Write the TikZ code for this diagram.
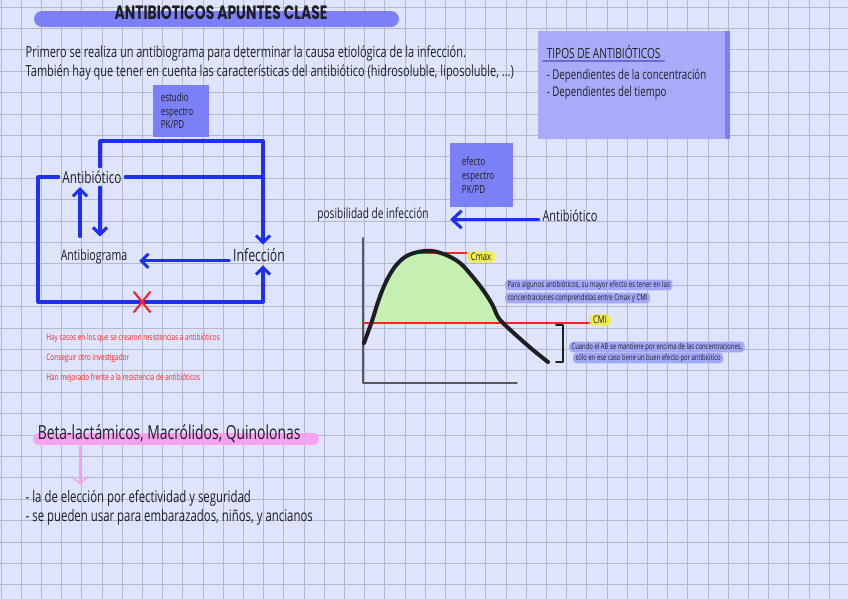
\documentclass[tikz,border=0pt]{standalone}
\usepackage{fontspec}
\setmainfont[FakeStretch=0.72]{Open Sans}
\newfontfamily\titlefont[FakeStretch=0.72]{Poppins}
\usetikzlibrary{arrows.meta,positioning}
\definecolor{paper}{HTML}{DDE4FB}
\definecolor{gridgray}{HTML}{B4B8CA}
\definecolor{barblue}{HTML}{7C80F6}
\definecolor{panelblue}{HTML}{A8ACF8}
\definecolor{flowblue}{HTML}{1F2EF5}
\definecolor{ink}{HTML}{1E1E24}
\definecolor{markyellow}{HTML}{F0EC55}
\definecolor{markblue}{HTML}{A2A7F6}
\definecolor{markpink}{HTML}{F7A2EE}
\definecolor{curvegreen}{HTML}{C6EFB2}
\definecolor{redink}{HTML}{FF2222}
\tikzset{
  hand/.style={inner sep=3pt, text=ink, font=\fontsize{13}{15.4}\selectfont},
  specbox/.style={fill=barblue, anchor=north west, align=left, text=ink, inner ysep=5pt, font=\fontsize{9.5}{11.6}\selectfont},
  flow/.style={draw=flowblue, line width=2.6pt, -{Straight Barb[length=6pt,width=12pt]}},
  redtxt/.style={anchor=west, inner sep=1pt, text=redink, font=\fontsize{7.6}{8}\selectfont},
  marknote/.style={anchor=west, fill=markblue, rounded corners=3pt, inner xsep=2pt, inner ysep=1pt, text=ink, font=\fontsize{7.2}{8}\selectfont},
  labeltag/.style={fill=markyellow, rounded corners=4pt, inner xsep=3.5pt, inner ysep=1.5pt, text=ink, font=\fontsize{9}{10}\selectfont},
  limit/.style={draw=redink, line width=1.7pt}
}
\begin{document}
\begin{tikzpicture}[x=0.03cm, y=-0.03cm, line join=round, line cap=round]
\useasboundingbox (0,0) rectangle (848,599);
\fill[paper] (0,0) rectangle (848,599);
\foreach \i in {0,...,41} \draw[gridgray, line width=0.7pt] (20.2*\i+1,0) -- (20.2*\i+1,599);
\foreach \j in {0,...,27} \draw[gridgray, line width=0.7pt] (0,21.4*\j+7) -- (848,21.4*\j+7);

% title and intro
\draw[barblue, line width=13.6pt] (42,19) -- (391,19);
\node[text=ink, font=\titlefont\bfseries\fontsize{16.5}{16.5}\selectfont] (title) at (221,13) {ANTIBIOTICOS APUNTES CLASE};
\node[hand, anchor=west, align=left] (intro) at (22,63) {Primero se realiza un antibiograma para determinar la causa etiológica de la infección.\\También hay que tener en cuenta las características del antibiótico (hidrosoluble, liposoluble, ...)};

% tipos
\fill[panelblue] (538,31) rectangle (730,139);
\fill[barblue] (725,31) rectangle (730,139);
\node[hand, anchor=west, font=\fontsize{12}{14}\selectfont] (tipos) at (543,52) {TIPOS DE ANTIBIÓTICOS};
\draw[barblue!85!black, line width=1.6pt] ([yshift=1pt]tipos.south west) -- ([yshift=1pt]tipos.south east);
\node[hand, anchor=west, align=left, font=\fontsize{11.5}{14.5}\selectfont] (tiposlist) at (543,84.5) {- Dependientes de la concentración\\- Dependientes del tiempo};

% cycle
\node[specbox, minimum width=48pt, minimum height=44pt, text width=35pt, inner xsep=6.5pt] (spec1) at (153,85) {estudio\\espectro\\PK/PD};
\node[hand, font=\fontsize{14}{16}\selectfont] (abx) at (92,177) {Antibiótico};
\node[hand, font=\fontsize{12.5}{14}\selectfont] (abg) at (94,257) {Antibiograma};
\node[hand, font=\fontsize{14.5}{16}\selectfont] (inf) at (259,255) {Infección};
\path (100,141) coordinate (topL) (263,141) coordinate (topR)
  (38,0) coordinate (loopL) (263,302) coordinate (loopR)
  (80,0) coordinate (upx) (142,302) coordinate (cross);
\draw[flow] (abx.north -| topL) -- (topL) -- (topR) -- (topR |- inf.north);
\draw[flow, -] (abx.east) -- (abx.east -| topR);
\draw[flow, shorten >=8pt] (abx.south -| topL) -- (topL |- abg.north);
\draw[flow, shorten <=8pt] (upx |- abg.north) -- (upx |- abx.south);
\draw[flow, shorten >=7pt] ([yshift=-5pt]inf.west) -- ([yshift=-5pt]inf.west -| abg.east);
\draw[flow] (abx.west) -- (abx.west -| loopL) |- (loopR) -- (loopR |- inf.south);
\draw[redink, line width=1.8pt] ([shift={(-8,-10)}]cross) -- ([shift={(8,10)}]cross)
  ([shift={(8,-10)}]cross) -- ([shift={(-8,10)}]cross);
\foreach \y/\t [count=\k] in {338/Hay casos en los que se crearon resistencias a antibióticos,
  358/Conseguir otro investigador,
  378/Han mejorado frente a la resistencia de antibióticos}
  \node[redtxt] (res\k) at (45,\y) {\t};

% graph
\node[specbox, minimum width=53.5pt, minimum height=54.6pt, text width=33.5pt, inner xsep=10pt, font=\fontsize{9.5}{12.2}\selectfont] (spec2) at (450,143) {efecto\\espectro\\PK/PD};
\node[hand, font=\fontsize{12}{14}\selectfont] (pos) at (373,215) {posibilidad de infección};
\node[hand, font=\fontsize{13}{15}\selectfont] (ab2) at (570,216) {Antibiótico};
\draw[flow, -{Straight Barb[length=8pt,width=15pt]}] ([yshift=-3pt]ab2.west) -- ([yshift=-3pt]ab2.west -| spec2.west);
\draw[gray!60!ink, line width=1.6pt] (363,238) -- (363,383) -- (517,383);
\begin{scope}
\clip (363,200) rectangle (600,323);
\fill[curvegreen] plot[smooth, tension=0.6] coordinates {(364,343) (372,321) (378,302) (385,284) (394,268) (405,257) (418,252) (432,251) (446,255) (460,263) (472,276) (483,290) (492,304) (498,317) (504,324) (517,336) (533,350) (548,362)} -- cycle;
\end{scope}
\node[labeltag] (cmi) at (600,320) {CMI};
\node[labeltag] (cmax) at (481,257) {Cmax};
\path (363,323) coordinate (cmiL) (418,253) coordinate (cmaxL);
\draw[limit] (cmiL) -- (cmiL -| cmi.west);
\draw[limit] (cmaxL) -- (cmaxL -| cmax.west);
\draw[ink, line width=3.4pt] plot[smooth, tension=0.6] coordinates {(364,343) (372,321) (378,302) (385,284) (394,268) (405,257) (418,252) (432,251) (446,255) (460,263) (472,276) (483,290) (492,304) (498,317) (504,324) (517,336) (533,350) (548,362)};
\draw[ink, line width=1.6pt] (556,325) -- (563,325) -- (563,362) -- (556,362);
\node[marknote] (pk1) at (505,285) {Para algunos antibióticos, su mayor efecto es tener en las};
\node[marknote] (pk2) at (505,298) {concentraciones comprendidas entre Cmax y CMI};
\node[marknote, font=\fontsize{7}{8}\selectfont] (pd1) at (569,347) {Cuando el AB se mantiene por encima de las concentraciones,};
\node[marknote, font=\fontsize{7}{8}\selectfont] (pd2) at (573,358) {sólo en ese caso tiene un buen efecto por antibiótico};

% familias
\draw[markpink, line width=10pt] (39,439) -- (313,439);
\node[hand, anchor=west, font=\fontsize{16.5}{18}\selectfont] (fam) at (34,434) {Beta-lactámicos, Macrólidos, Quinolonas};
\node[hand, anchor=west, align=left, font=\fontsize{13.5}{16}\selectfont] (notes) at (22,508) {- la de elección por efectividad y seguridad\\- se pueden usar para embarazados, niños, y ancianos};
\path (80,0) coordinate (famx);
\draw[markpink, line width=1.3pt, -{Straight Barb[length=6pt,width=14pt]}] (famx |- fam.south) -- ([yshift=2pt]famx |- notes.north);
\end{tikzpicture}
\end{document}
